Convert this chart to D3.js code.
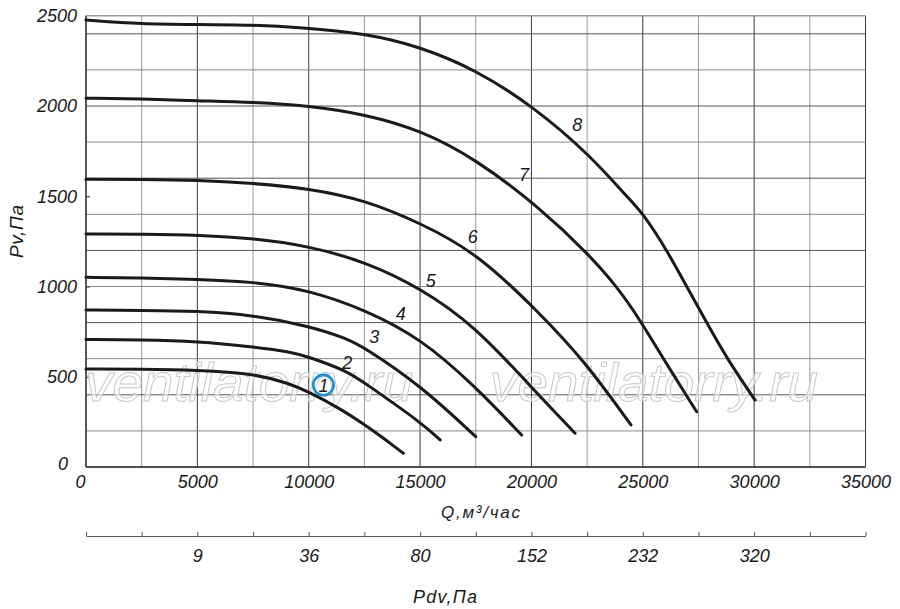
<!DOCTYPE html>
<html>
<head>
<meta charset="utf-8">
<script src="https://cdn.jsdelivr.net/npm/d3@7"></script>
<style>
  body { margin: 0; background: #fff; }
  svg text { font-family: "Liberation Sans", Arial, sans-serif; font-style: italic; fill: #1a1a1a; }
</style>
</head>
<body>
<script>
// размеры
var width = 900;
var height = 609;

// оси
const qTicks = [0, 5000, 10000, 15000, 20000, 25000, 30000, 35000];
const qGrid = d3.range(0, 35001, 2500);
const pTicks = [0, 500, 1000, 1500, 2000, 2500];
const pGrid = d3.range(0, 2401, 200);
const pdvTicks = [5000, 10000, 15000, 20000, 25000, 30000];
const pdvLabels = ["9", "36", "80", "152", "232", "320"];

// кривые [Q, Pv]
const fan1 = [[0, 543], [2500, 543], [5000, 537], [7500, 519], [9160, 462], [9980, 417], [11400, 325], [12530, 233], [13200, 174], [14250, 76]];
const fan2 = [[0, 706], [2500, 705], [5000, 696], [7500, 666], [9160, 639], [9980, 611], [11720, 532], [12530, 464], [15000, 251], [15900, 150]];
const fan3 = [[0, 870], [2500, 868], [5000, 864], [7500, 842], [10000, 781], [11700, 713], [12550, 658], [15000, 454], [17500, 168]];
const fan4 = [[0, 1051], [2500, 1048], [5000, 1040], [7500, 1027], [10000, 981], [12550, 870], [15030, 713], [17490, 445], [19560, 177]];
const fan5 = [[0, 1291], [2500, 1290], [5120, 1285], [7510, 1267], [10010, 1224], [12560, 1137], [15040, 990], [17500, 777], [19970, 445], [21960, 187]];
const fan6 = [[0, 1594], [2500, 1594], [5000, 1590], [7500, 1572], [10000, 1544], [12530, 1479], [15000, 1352], [17510, 1190], [20390, 851], [22400, 585], [24470, 233]];
const fan7 = [[0, 2043], [2500, 2040], [5000, 2029], [7500, 2021], [10000, 2002], [12530, 1954], [15000, 1867], [17510, 1706], [20390, 1435], [22600, 1175], [23900, 990], [24900, 810], [25920, 600], [27420, 306]];
const fan8 = [[0, 2476], [2500, 2454], [5000, 2452], [7500, 2449], [9610, 2435], [12530, 2403], [15000, 2329], [17510, 2200], [20030, 2002], [22630, 1729], [24420, 1479], [25000, 1406], [26080, 1202], [26970, 999], [27870, 800], [28770, 602], [30040, 371]];
const fans = [fan1, fan2, fan3, fan4, fan5, fan6, fan7, fan8];
const fanNames = ["1", "2", "3", "4", "5", "6", "7", "8"];
const fanLabelAt = [[10660, 454], [11730, 580], [12946, 722], [14130, 851], [15480, 1032], [17365, 1276], [19666, 1618], [22061, 1900]];

var svg = d3.select("body").append("svg")
	.attr("width", width)
	.attr("height", height);

var x = d3.scaleLinear().domain([0, 35000]).range([86, 865.5]);
var y = d3.scaleLinear().domain([0, 2500]).range([467, 15.75]);

// сетка
svg.append("g").selectAll("line").data(qGrid).join("line")
	.attr("x1", d => x(d)).attr("x2", d => x(d))
	.attr("y1", y(0)).attr("y2", y(2500))
	.attr("stroke", (d, i) => i % 2 == 0 ? "#3a3a3a" : "#999")
	.attr("stroke-width", 1);
svg.append("g").selectAll("line").data(pGrid).join("line")
	.attr("x1", x(0)).attr("x2", x(35000))
	.attr("y1", d => y(d)).attr("y2", d => y(d))
	.attr("stroke", (d, i) => i % 2 == 0 ? "#555" : "#8a8a8a")
	.attr("stroke-width", 1);
svg.append("line")
	.attr("x1", x(0)).attr("x2", x(35000))
	.attr("y1", y(2500)).attr("y2", y(2500))
	.attr("stroke", "#999").attr("stroke-width", 1.5);
svg.append("line")
	.attr("x1", x(0)).attr("x2", x(0))
	.attr("y1", y(0)).attr("y2", y(2500))
	.attr("stroke", "#333").attr("stroke-width", 1.3);
svg.append("line")
	.attr("x1", x(0)).attr("x2", x(35000))
	.attr("y1", y(0)).attr("y2", y(0))
	.attr("stroke", "#333").attr("stroke-width", 1.3);
// мелкие риски на левой оси
svg.append("g").selectAll("line").data(pTicks.slice(1, 4)).join("line")
	.attr("x1", x(0)).attr("x2", x(0) + 4)
	.attr("y1", d => y(d) + 0.5).attr("y2", d => y(d) + 0.5)
	.attr("stroke", "#333");

// водяной знак
[0, 1].forEach(k => {
	svg.append("text")
		.attr("x", k == 0 ? 85 : 490)
		.attr("y", 401)
		.attr("textLength", 328)
		.attr("lengthAdjust", "spacingAndGlyphs")
		.style("font-size", "54px")
		.style("fill", "#fff")
		.style("fill-opacity", 0.55)
		.style("stroke", "#c8c8c8")
		.style("stroke-width", 1)
		.text("ventilatorry.ru");
});

// кривые
var line = d3.line()
	.x(d => x(d[0]))
	.y(d => y(d[1]))
	.curve(d3.curveBasis);
svg.append("g").selectAll("path").data(fans).join("path")
	.attr("d", line)
	.attr("fill", "none")
	.attr("stroke", "#1a1a1a")
	.attr("stroke-width", 3)
	.attr("stroke-linecap", "round");

// номера кривых
svg.append("circle")
	.attr("cx", x(fanLabelAt[0][0]))
	.attr("cy", y(fanLabelAt[0][1]))
	.attr("r", 10.2)
	.attr("fill", "none")
	.attr("stroke", "#1a8fd6")
	.attr("stroke-width", 2.6);
svg.append("g").selectAll("text").data(fanNames).join("text")
	.attr("x", (d, i) => x(fanLabelAt[i][0]))
	.attr("y", (d, i) => y(fanLabelAt[i][1]))
	.attr("text-anchor", "middle")
	.attr("dy", "0.36em")
	.style("font-size", "18px")
	.text(d => d);

// ось Q
var xAxis = svg.append("g")
	.attr("transform", "translate(0," + y(0) + ")")
	.call(d3.axisBottom(x).tickValues(qTicks).tickSize(0).tickPadding(8).tickFormat(d3.format("d")));
xAxis.select(".domain").remove();
xAxis.selectAll("text")
	.attr("font-family", null).attr("font-size", null)
	.style("font-size", "18px")
	.attr("x", d => d == 0 ? -6 : 0);

// ось Pv
var yAxis = svg.append("g")
	.attr("transform", "translate(" + x(0) + ",0)")
	.call(d3.axisLeft(y).tickValues(pTicks).tickSize(0).tickPadding(9).tickFormat(d3.format("d")));
yAxis.select(".domain").remove();
yAxis.selectAll("text")
	.attr("font-family", null).attr("font-size", null)
	.style("font-size", "18px")
	.attr("x", d => d == 0 ? -18 : -9)
	.attr("dy", d => d == 0 ? "0.12em" : "0.32em");

// ось Pdv
var pdvAxis = svg.append("g")
	.attr("transform", "translate(0,536)")
	.call(d3.axisBottom(x).tickValues(qGrid).tickSizeInner(-4).tickSizeOuter(0).tickPadding(13)
		.tickFormat(d => { let i = pdvTicks.indexOf(d); return i < 0 ? "" : pdvLabels[i]; }));
pdvAxis.select(".domain").attr("stroke", "#555");
pdvAxis.selectAll(".tick line").attr("stroke", "#555");
pdvAxis.selectAll("text")
	.attr("font-family", null).attr("font-size", null)
	.style("font-size", "18px");

// подписи осей
svg.append("text")
	.attr("x", 441).attr("y", 518)
	.attr("textLength", 79).attr("lengthAdjust", "spacing")
	.style("font-size", "17px")
	.text("Q,м³/час");
svg.append("text")
	.attr("x", 413).attr("y", 603)
	.attr("textLength", 64).attr("lengthAdjust", "spacing")
	.style("font-size", "18px")
	.text("Pdv,Па");
svg.append("text")
	.attr("transform", "translate(23,258) rotate(-90)")
	.attr("textLength", 53).attr("lengthAdjust", "spacing")
	.style("font-size", "19px")
	.text("Pv,Па");
</script>
</body>
</html>
